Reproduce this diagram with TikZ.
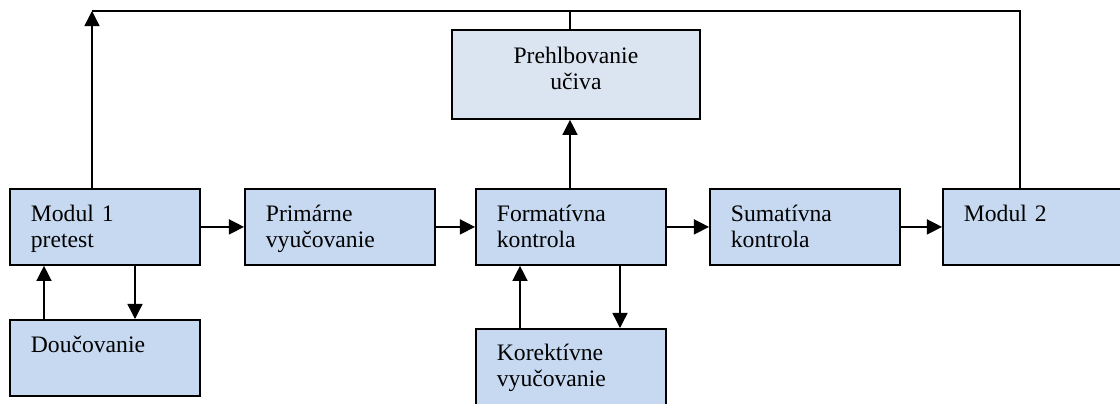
\documentclass[tikz,border=0pt]{standalone}
\usepackage{fontspec}
\setmainfont{Liberation Serif}
\usetikzlibrary{arrows.meta, calc}

\newlength\pxu
\setlength\pxu{0.025cm}
\definecolor{boxblue}{HTML}{C6D9F1}
\definecolor{boxlight}{HTML}{DBE5F1}

\begin{document}
\begin{tikzpicture}[
		x = 0.025cm, y = -0.025cm,
		font = \fontsize{16.8}{18}\selectfont,
		block/.style = {draw, line width = 1.3pt, fill = boxblue, rectangle,
			anchor = north west, align = left, inner xsep = 21\pxu, inner ysep = 0pt,
			text width = 148\pxu, text height = 33\pxu, text depth = 43\pxu},
		arr/.style = {line width = 1pt, -{Triangle[length = 10.7pt, width = 10.7pt]}},
		link/.style = {line width = 1pt}
		]
		\useasboundingbox (0,0) rectangle (1120,403);
		% boxes
		\node[block] (modul1) at (9,188)   {Modul 1\\pretest};
		\node[block] (douc)   at (9,319)   {Doučovanie};
		\node[block] (prim)   at (244,188) {Primárne\\vyučovanie};
		\node[block] (form)   at (475,188) {Formatívna\\kontrola};
		\node[block, text height = 32\pxu, text depth = 55\pxu] (korek) at (475,328) {Korektívne\\vyučovanie};
		\node[block] (sumat)  at (709,188) {Sumatívna\\kontrola};
		\node[block] (modul2) at (942,188) {Modul 2};
		\node[block, fill = boxlight, align = center, text width = 206\pxu,
			text height = 34\pxu, text depth = 55\pxu] (prehl) at (451,29) {Prehlbovanie\\učiva};
		% top line
		\coordinate (tl) at (92,11);
		\coordinate (tr) at (1020,11);
		\coordinate (ptop) at ($(prehl.north west)+(119,0)$);
		% arrows
		\draw[arr] (modul1.east) -- (prim.west);
		\draw[arr] (prim.east) -- (form.west);
		\draw[arr] (form.east) -- (sumat.west);
		\draw[arr] (sumat.east) -- (modul2.west);
		\draw[arr] ($(modul1.south west)+(126,0)$) -- ($(douc.north west)+(126,0)$);
		\draw[arr] ($(douc.north west)+(35,0)$) -- ($(modul1.south west)+(35,0)$);
		\draw[arr] ($(form.south west)+(145,0)$) -- ($(korek.north west)+(145,0)$);
		\draw[arr] ($(korek.north west)+(45,0)$) -- ($(form.south west)+(45,0)$);
		\draw[arr] ($(form.north west)+(95,0)$) -- ($(prehl.south west)+(119,0)$);
		\draw[arr] ($(modul1.north west)+(83,0)$) -- (tl);
		\draw[link] (tl) -- (tr) -- ($(modul2.north west)+(78,0)$);
		\draw[link] (ptop) -- (ptop |- tl);
	\end{tikzpicture}
\end{document}
